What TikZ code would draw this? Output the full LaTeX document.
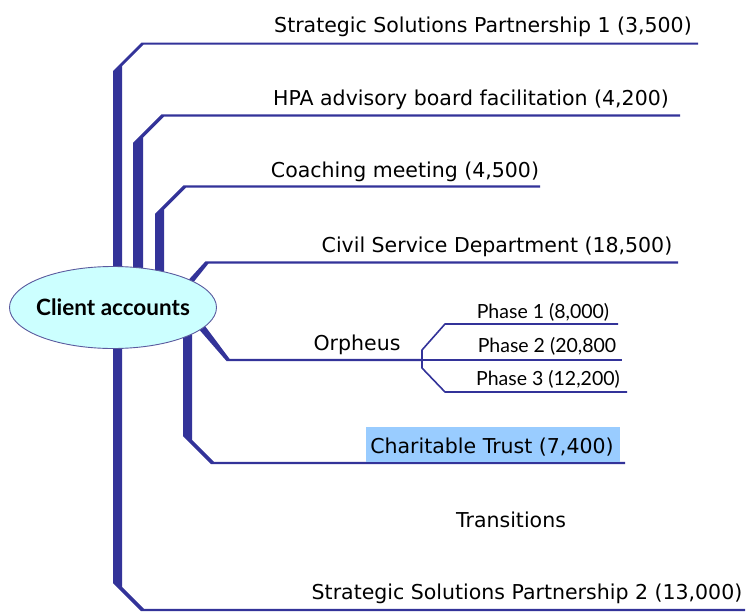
\documentclass[tikz,border=0pt]{standalone}
\usepackage{fontspec}
\setmainfont{DejaVu Sans}
\newfontfamily\gillfont{Lato}

\definecolor{lineblue}{HTML}{333399}
\definecolor{rootfill}{HTML}{CCFFFF}
\definecolor{rootedge}{HTML}{5A5A9E}
\definecolor{hilite}{HTML}{99CCFF}

\begin{document}
\begin{tikzpicture}[x=1pt,y=-1pt,
  branch/.style={fill=lineblue,draw=none},
  twig/.style={draw=lineblue,line width=1.6pt,line join=round},
  leaf/.style={font=\fontsize{20.5}{24}\selectfont,inner sep=0pt,anchor=center},
  subleaf/.style={font=\gillfont\fontsize{19.5}{23}\selectfont,inner sep=0pt,anchor=center},
  rootshape/.style={draw=rootedge,line width=0.9pt,fill=rootfill},
  rootnode/.style={inner sep=0pt,font=\gillfont\bfseries\fontsize{22.5}{26}\selectfont}]

\useasboundingbox (0,0) rectangle (750,613);

% tapered main branches (drawn first, the root ellipse covers their roots)
% Strategic Solutions Partnership 1
\fill[branch] (113,300) -- (113,71) -- (141.5,42.5) -- (698,42.5) -- (698,44.7)
  -- (143.5,44.7) -- (122,66.2) -- (122,300) -- cycle;
% HPA advisory board facilitation
\fill[branch] (133,300) -- (133,142.8) -- (161.5,114.3) -- (680,114.3) -- (680,116.5)
  -- (164,116.5) -- (143,137.5) -- (143,300) -- cycle;
% Coaching meeting
\fill[branch] (155,300) -- (155,213.8) -- (183.5,185.3) -- (540,185.3) -- (540,187.5)
  -- (186,187.5) -- (164,209.5) -- (164,300) -- cycle;
% Civil Service Department
\fill[branch] (183,286) -- (205.5,261.3) -- (678,261.3) -- (678,263.5)
  -- (208.5,263.5) -- (192,284) -- cycle;
% Orpheus
\fill[branch] (197,327) -- (226.5,361) -- (422,361) -- (422,358.8)
  -- (229.5,358.8) -- (205,326) -- cycle;
% Charitable Trust
\fill[branch] (183,320) -- (183,436) -- (211,464) -- (625,464) -- (625,461.8)
  -- (214,461.8) -- (192,439.8) -- (192,320) -- cycle;
% Strategic Solutions Partnership 2
\fill[branch] (113,320) -- (113,583) -- (141,611) -- (745,611) -- (745,608.8)
  -- (144,608.8) -- (122,586.8) -- (122,320) -- cycle;

% Orpheus sub-branches
\coordinate (fork) at (422,359.9);
\draw[twig] (fork) -- (622,359.9);
\draw[twig] (fork) -- (422,350) -- (445,324) -- (618,324);
\draw[twig] (fork) -- (422,368) -- (445,392) -- (627,392);

% root
\coordinate (rootc) at (113,307.5);
\path[rootshape] (rootc) ellipse [x radius=103.5, y radius=41];
\node[rootnode] (root) at (rootc) {Client accounts};

% highlight behind the Charitable Trust label
\fill[hilite] (365.5,427) rectangle (620,461.5);

% labels
\node[leaf] (ssp1) at (483,27) {Strategic Solutions Partnership 1 (3,500)};
\node[leaf] (hpa) at (471,100) {HPA advisory board facilitation (4,200)};
\node[leaf] (coach) at (405,172) {Coaching meeting (4,500)};
\node[leaf] (civil) at (497,247) {Civil Service Department (18,500)};
\node[leaf] (orph) at (357,345) {Orpheus};
\node[subleaf] (ph1) at (543,312) {Phase 1 (8,000)};
\node[subleaf] (ph2) at (547,346) {Phase 2 (20,800};
\node[subleaf] (ph3) at (548,379) {Phase 3 (12,200)};
\node[leaf] (trust) at (492,447.5) {Charitable Trust (7,400)};
\node[leaf] (trans) at (511,519.5) {Transitions};
\node[leaf] (ssp2) at (527,594) {Strategic Solutions Partnership 2 (13,000)};

\end{tikzpicture}
\end{document}
